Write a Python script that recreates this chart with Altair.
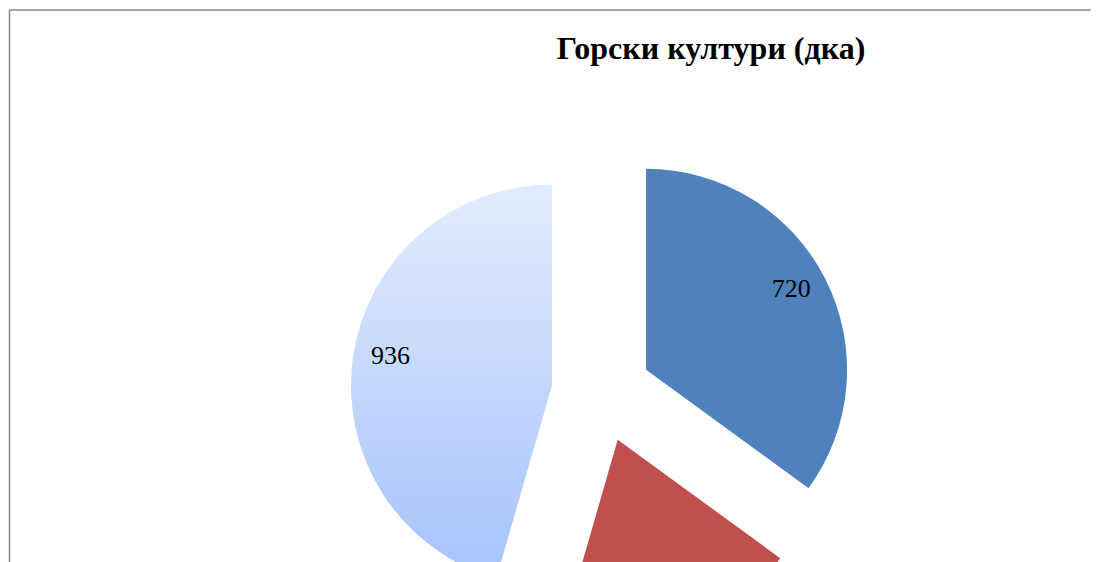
import altair as alt
import pandas as pd

# data
categories = ["Категория 1", "Категория 2", "Категория 3"]
values = [720, 400, 936]
order = [1, 2, 3]
colors = ["#4F81BD", "#C0504D", "#C4D7FB"]

title_text = "Горски култури (дка)"

W, H = 1083, 554
CX, CY = 593.5, 384.5   # pie centre in view coords
D = 50                  # explosion distance
R = 201                 # radius
L = 213                 # label distance from pie centre

df = pd.DataFrame({"cat": categories, "value": values, "ord": order})

base = alt.Chart(df).transform_window(
    cum="sum(value)", sort=[alt.SortField("ord")], frame=[None, 0]
).transform_joinaggregate(
    total="sum(value)"
).transform_calculate(
    t0="2*PI*(datum.cum - datum.value)/datum.total",
    t1="2*PI*datum.cum/datum.total",
).transform_calculate(
    mid="(datum.t0 + datum.t1)/2"
).transform_calculate(
    px=f"{CX} + {D}*sin(datum.mid)",
    py=f"{CY} - {D}*cos(datum.mid)",
    lx=f"{CX} + {L}*sin(datum.mid)",
    ly=f"{CY} - {L}*cos(datum.mid)",
)

enc = dict(
    x=alt.X("px:Q", scale=None, axis=None),
    y=alt.Y("py:Q", scale=None, axis=None),
    theta=alt.Theta("t0:Q", scale=None),
    theta2=alt.Theta2("t1:Q"),
)

solid = base.transform_filter(
    alt.datum.cat != categories[2]
).mark_arc(outerRadius=R).encode(
    color=alt.Color("cat:N", scale=alt.Scale(domain=categories, range=colors), legend=None),
    **enc,
)

grad = base.transform_filter(
    alt.datum.cat == categories[2]
).mark_arc(
    outerRadius=R,
    color=alt.Gradient(
        gradient="linear",
        stops=[alt.GradientStop(color="#E2ECFC", offset=0),
               alt.GradientStop(color="#A6C3FC", offset=1)],
        x1=0, x2=0, y1=0, y2=1,
    ),
).encode(**enc)

labels = base.mark_text(
    font="Liberation Serif", fontSize=26, color="black", align="center",
    baseline="middle", dy=-7,
).encode(
    x=alt.X("lx:Q", scale=None, axis=None),
    y=alt.Y("ly:Q", scale=None, axis=None),
    text=alt.Text("value:Q"),
)

title = alt.Chart(pd.DataFrame({"t": [title_text]})).mark_text(
    font="Liberation Serif", fontSize=32, fontWeight="bold", color="black",
    align="center", baseline="alphabetic",
).encode(x=alt.value(703), y=alt.value(51), text="t:N")

border_top = alt.Chart(pd.DataFrame({"a": [0]})).mark_rule(
    color="#8A8A8A", strokeWidth=1.6
).encode(x=alt.value(1), x2=alt.value(W), y=alt.value(2))
border_left = alt.Chart(pd.DataFrame({"a": [0]})).mark_rule(
    color="#8A8A8A", strokeWidth=1.6
).encode(x=alt.value(1.5), y=alt.value(2), y2=alt.value(H))

chart = alt.layer(grad, solid, labels, title, border_top, border_left).properties(
    width=W, height=H, autosize=alt.AutoSizeParams(type="none"), padding=0
).configure_view(stroke=None)

chart.save("out.html", embed_options={"renderer": "svg", "actions": False})
